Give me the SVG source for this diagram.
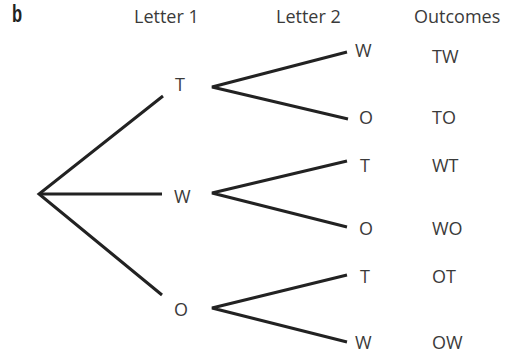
<svg xmlns="http://www.w3.org/2000/svg" width="508" height="356" viewBox="0 0 508 356">
<style>
text{font-family:"Open Sans","Liberation Sans",sans-serif;font-size:18px;fill:#3a3a3a;}
.b{font-family:"Liberation Sans",sans-serif;font-weight:bold;font-size:23px;fill:#222;}
.ln{stroke:#222;stroke-width:3;fill:none;stroke-linecap:butt;stroke-linejoin:miter;}
</style>
<rect width="508" height="356" fill="#fff"/>
<text class="b" transform="translate(12,22) scale(0.72,1)">b</text>
<g id="headers">
<text x="134" y="23">Letter 1</text>
<text x="276" y="23">Letter 2</text>
<text x="414" y="23">Outcomes</text>
</g>
<g id="connectors">
<polyline class="ln" points="163,96 39,194 162,295"/>
<line class="ln" x1="39" y1="194" x2="162" y2="194"/>
<polyline class="ln" points="347,52 212,87 348,119"/>
<polyline class="ln" points="347,161 212,193 347,227"/>
<polyline class="ln" points="347,275 212,308 347,342"/>
</g>
<g id="l1-T"><text x="175" y="91">T</text></g>
<g id="l1-W"><text x="174" y="203">W</text></g>
<g id="l1-O"><text x="174" y="316">O</text></g>
<g id="l2-TW"><text x="355" y="57">W</text></g>
<g id="l2-TO"><text x="359" y="124">O</text></g>
<g id="l2-WT"><text x="360" y="172">T</text></g>
<g id="l2-WO"><text x="359" y="235">O</text></g>
<g id="l2-OT"><text x="360" y="283">T</text></g>
<g id="l2-OW"><text x="355" y="349">W</text></g>
<g id="outcomes">
<text x="432" y="63">TW</text>
<text x="432" y="124">TO</text>
<text x="432" y="172">WT</text>
<text x="432" y="235">WO</text>
<text x="432" y="283">OT</text>
<text x="432" y="349">OW</text>
</g>
</svg>
